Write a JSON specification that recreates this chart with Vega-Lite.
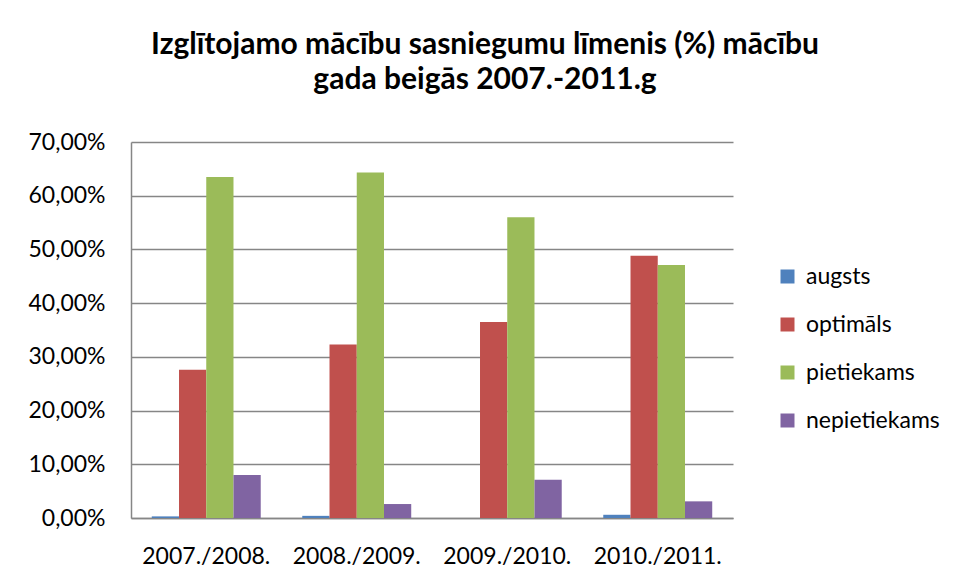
{
  "$schema": "https://vega.github.io/schema/vega-lite/v6.json",
  "autosize": {"type": "none"},
  "width": 602,
  "height": 376,
  "padding": {"left": 131, "top": 142, "right": 226, "bottom": 62},
  "background": "white",
  "title": {
    "text": ["Izglītojamo mācību sasniegumu līmenis  (%) mācību", "gada beigās 2007.-2011.g"],
    "font": "Lato",
    "fontSize": 30,
    "fontWeight": "bold",
    "color": "#000000",
    "anchor": "middle",
    "dx": 53,
    "offset": 36,
    "lineHeight": 35
  },
  "data": {
    "values": [
      {"year": "2007./2008.", "level": "augsts", "value": 0.003},
      {"year": "2007./2008.", "level": "optimāls", "value": 0.276},
      {"year": "2007./2008.", "level": "pietiekams", "value": 0.635},
      {"year": "2007./2008.", "level": "nepietiekams", "value": 0.080},
      {"year": "2008./2009.", "level": "augsts", "value": 0.004},
      {"year": "2008./2009.", "level": "optimāls", "value": 0.323},
      {"year": "2008./2009.", "level": "pietiekams", "value": 0.643},
      {"year": "2008./2009.", "level": "nepietiekams", "value": 0.026},
      {"year": "2009./2010.", "level": "augsts", "value": 0.0},
      {"year": "2009./2010.", "level": "optimāls", "value": 0.365},
      {"year": "2009./2010.", "level": "pietiekams", "value": 0.560},
      {"year": "2009./2010.", "level": "nepietiekams", "value": 0.071},
      {"year": "2010./2011.", "level": "augsts", "value": 0.006},
      {"year": "2010./2011.", "level": "optimāls", "value": 0.488},
      {"year": "2010./2011.", "level": "pietiekams", "value": 0.471},
      {"year": "2010./2011.", "level": "nepietiekams", "value": 0.031}
    ]
  },
  "mark": {"type": "bar"},
  "encoding": {
    "x": {
      "field": "year",
      "type": "nominal",
      "scale": {"paddingInner": 0.276, "paddingOuter": 0.138},
      "axis": {
        "title": null,
        "labelAngle": 0,
        "labelFont": "Lato",
        "labelFontSize": 23,
        "labelColor": "#000000",
        "labelPadding": 27,
        "ticks": false,
        "domainColor": "#868686",
        "domainWidth": 1.5
      }
    },
    "xOffset": {
      "field": "level",
      "type": "nominal",
      "sort": ["augsts", "optimāls", "pietiekams", "nepietiekams"],
      "scale": {"paddingInner": 0, "paddingOuter": 0}
    },
    "y": {
      "field": "value",
      "type": "quantitative",
      "scale": {"domain": [0, 0.7], "nice": false},
      "axis": {
        "title": null,
        "values": [0, 0.1, 0.2, 0.3, 0.4, 0.5, 0.6, 0.7],
        "labelExpr": "replace(format(datum.value, '.2%'), '.', ',')",
        "labelFont": "Lato",
        "labelFontSize": 23,
        "labelColor": "#000000",
        "labelPadding": 26,
        "ticks": false,
        "domainColor": "#868686",
        "domainWidth": 1.5,
        "grid": true,
        "gridColor": "#868686",
        "gridWidth": 1.5
      }
    },
    "color": {
      "field": "level",
      "type": "nominal",
      "sort": ["augsts", "optimāls", "pietiekams", "nepietiekams"],
      "scale": {
        "domain": ["augsts", "optimāls", "pietiekams", "nepietiekams"],
        "range": ["#4F81BD", "#C0504D", "#9BBB59", "#8064A2"]
      },
      "legend": {
        "title": null,
        "orient": "none",
        "legendX": 645,
        "legendY": 123,
        "padding": 0,
        "symbolType": "square",
        "symbolSize": 196,
        "symbolStrokeWidth": 0,
        "labelFont": "Lato",
        "labelFontSize": 23,
        "labelColor": "#000000",
        "labelOffset": 7,
        "rowPadding": 24
      }
    }
  },
  "config": {
    "view": {"stroke": null}
  }
}
